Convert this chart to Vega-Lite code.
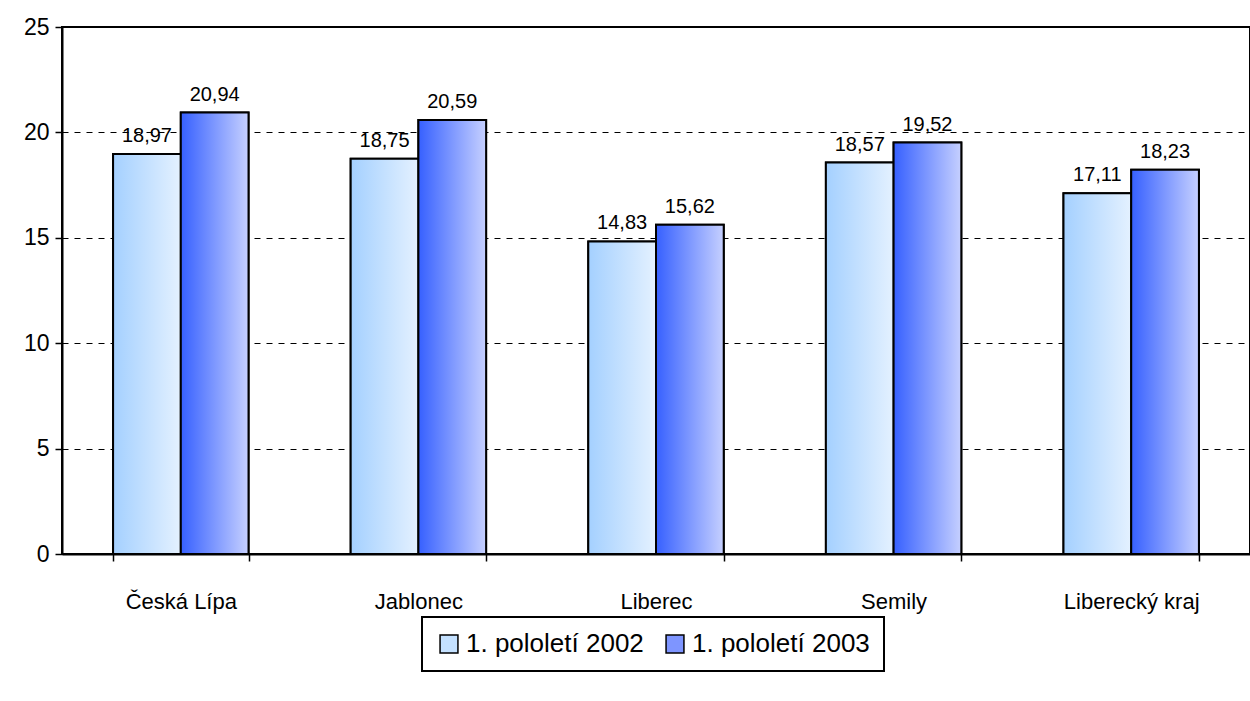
{
  "$schema": "https://vega.github.io/schema/vega-lite/v6.json",
  "autosize": "none",
  "padding": {"left": 62, "top": 27, "right": 0, "bottom": 147},
  "width": 1188,
  "height": 527,
  "background": "white",
  "config": {
    "font": "Liberation Sans",
    "locale": {"number": {"decimal": ",", "thousands": " ", "grouping": [3], "currency": ["", " Kč"]}},
    "view": {"stroke": "black", "strokeWidth": 2}
  },
  "data": {
    "values": [
      {"okres": "Česká Lípa", "obdobi": "1. pololetí 2002", "hodnota": 18.97},
      {"okres": "Česká Lípa", "obdobi": "1. pololetí 2003", "hodnota": 20.94},
      {"okres": "Jablonec", "obdobi": "1. pololetí 2002", "hodnota": 18.75},
      {"okres": "Jablonec", "obdobi": "1. pololetí 2003", "hodnota": 20.59},
      {"okres": "Liberec", "obdobi": "1. pololetí 2002", "hodnota": 14.83},
      {"okres": "Liberec", "obdobi": "1. pololetí 2003", "hodnota": 15.62},
      {"okres": "Semily", "obdobi": "1. pololetí 2002", "hodnota": 18.57},
      {"okres": "Semily", "obdobi": "1. pololetí 2003", "hodnota": 19.52},
      {"okres": "Liberecký kraj", "obdobi": "1. pololetí 2002", "hodnota": 17.11},
      {"okres": "Liberecký kraj", "obdobi": "1. pololetí 2003", "hodnota": 18.23}
    ]
  },
  "encoding": {
    "x": {
      "field": "okres", "type": "nominal", "sort": null, "title": null,
      "scale": {"paddingInner": 0.43, "paddingOuter": 0.215},
      "axis": {
        "labelAngle": 0, "labelFontSize": 22, "labelColor": "black", "labelPadding": 30,
        "domainColor": "black", "domainWidth": 2, "tickColor": "black", "tickWidth": 1.5,
        "tickSize": 7, "tickBand": "extent"
      }
    },
    "xOffset": {"field": "obdobi", "type": "nominal", "sort": ["1. pololetí 2002", "1. pololetí 2003"], "scale": {"paddingInner": 0, "paddingOuter": 0}},
    "y": {
      "field": "hodnota", "type": "quantitative", "title": null,
      "scale": {"domain": [0, 25], "nice": false},
      "axis": {
        "values": [0, 5, 10, 15, 20, 25], "labelFontSize": 23, "labelColor": "black", "labelPadding": 6,
        "domainColor": "black", "domainWidth": 2, "tickColor": "black", "tickWidth": 1.5, "tickSize": 7,
        "grid": true, "gridColor": "black", "gridDash": [6, 6], "gridWidth": 1,
        "gridOpacity": {"expr": "datum.value > 0 && datum.value < 25 ? 1 : 0"}
      }
    }
  },
  "layer": [
    {
      "mark": {"type": "bar", "stroke": "black", "strokeWidth": 2},
      "encoding": {
        "color": {
          "field": "obdobi", "type": "nominal", "title": null,
          "scale": {
            "domain": ["1. pololetí 2002", "1. pololetí 2003"],
            "range": ["#C4E1FF", "#7E95FF"]
          },
          "legend": {
            "orient": "none", "legendX": 360, "legendY": 590, "direction": "horizontal",
            "strokeColor": "black", "padding": 14, "labelLimit": 0,
            "labelFontSize": 26, "labelColor": "black", "symbolType": "square", "symbolSize": 320,
            "symbolStrokeColor": "black", "symbolStrokeWidth": 1.5, "labelOffset": 4, "columnPadding": 18,
            "encode": {"legend": {"update": {"strokeWidth": {"value": 2}}}}
          }
        }
      }
    },
    {
      "transform": [{"filter": "datum.obdobi === '1. pololetí 2002'"}],
      "mark": {"type": "bar", "stroke": "black", "strokeWidth": 2,
        "color": {"gradient": "linear", "x1": 0, "y1": 0, "x2": 1, "y2": 0, "stops": [{"offset": 0, "color": "#A4D0FF"}, {"offset": 1, "color": "#E4F1FF"}]}}
    },
    {
      "transform": [{"filter": "datum.obdobi === '1. pololetí 2003'"}],
      "mark": {"type": "bar", "stroke": "black", "strokeWidth": 2,
        "color": {"gradient": "linear", "x1": 0, "y1": 0, "x2": 1, "y2": 0, "stops": [{"offset": 0, "color": "#3660FF"}, {"offset": 1, "color": "#C6D0FF"}]}}
    },
    {
      "mark": {"type": "text", "baseline": "bottom", "dy": -8, "fontSize": 20, "color": "black"},
      "encoding": {
        "text": {"field": "hodnota", "type": "quantitative", "format": ".2f"}
      }
    }
  ]
}
